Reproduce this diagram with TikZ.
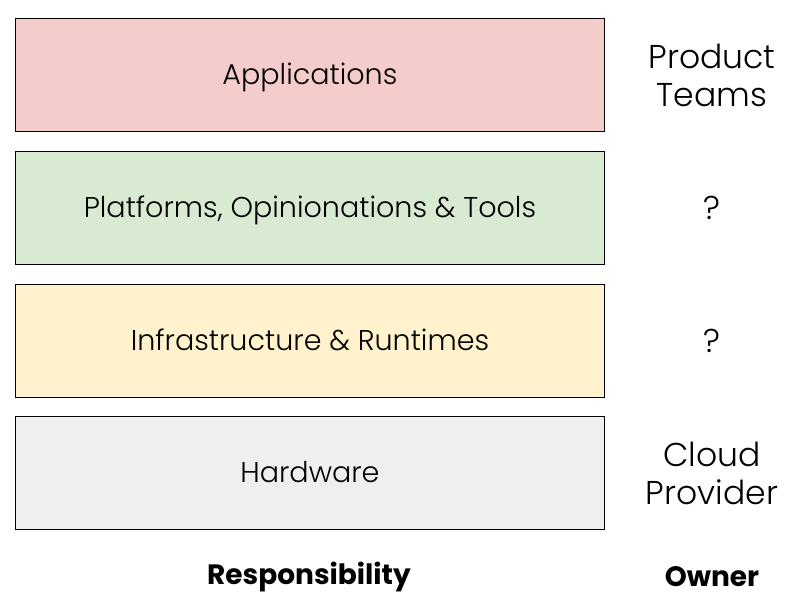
\documentclass[tikz,border=0pt]{standalone}
\usepackage{fontspec}
\setmainfont{Poppins}[UprightFont=* Light, BoldFont=* Bold]
\definecolor{cpink}{HTML}{F4CCCC}
\definecolor{cgreen}{HTML}{D9EAD3}
\definecolor{cyellow}{HTML}{FFF2CC}
\definecolor{cgray}{HTML}{EFEFEF}
\begin{document}
\begin{tikzpicture}[x=1pt,y=-1pt,
  layer/.style={draw=black,line width=0.9pt,minimum width=589pt,minimum height=113pt,inner sep=0pt,anchor=north west,font=\fontsize{28.6}{32}\selectfont,text depth=3pt},
  owner/.style={align=center,font=\fontsize{33}{38}\selectfont},
  head/.style={font=\fontsize{28}{32}\selectfont\bfseries}]
\useasboundingbox (0,0) rectangle (798,612);
\fill[white] (0,0) rectangle (798,612);
\node[layer,fill=cpink] (app) at (15,18) {Applications};
\node[layer,fill=cgreen] (plat) at (15,151) {Platforms, Opinionations \& Tools};
\node[layer,fill=cyellow] (infra) at (15,284) {Infrastructure \& Runtimes};
\node[layer,fill=cgray] (hw) at (15,416) {Hardware};
\node[owner] (o1) at (712,75) {Product\\Teams};
\node[owner] (o2) at (712,208) {?};
\node[owner] (o3) at (712,341) {?};
\node[owner] (o4) at (712,473) {Cloud\\Provider};
\node[head] (resp) at (309,577) {Responsibility};
\node[head] (own) at (712,577) {Owner};
\end{tikzpicture}
\end{document}
